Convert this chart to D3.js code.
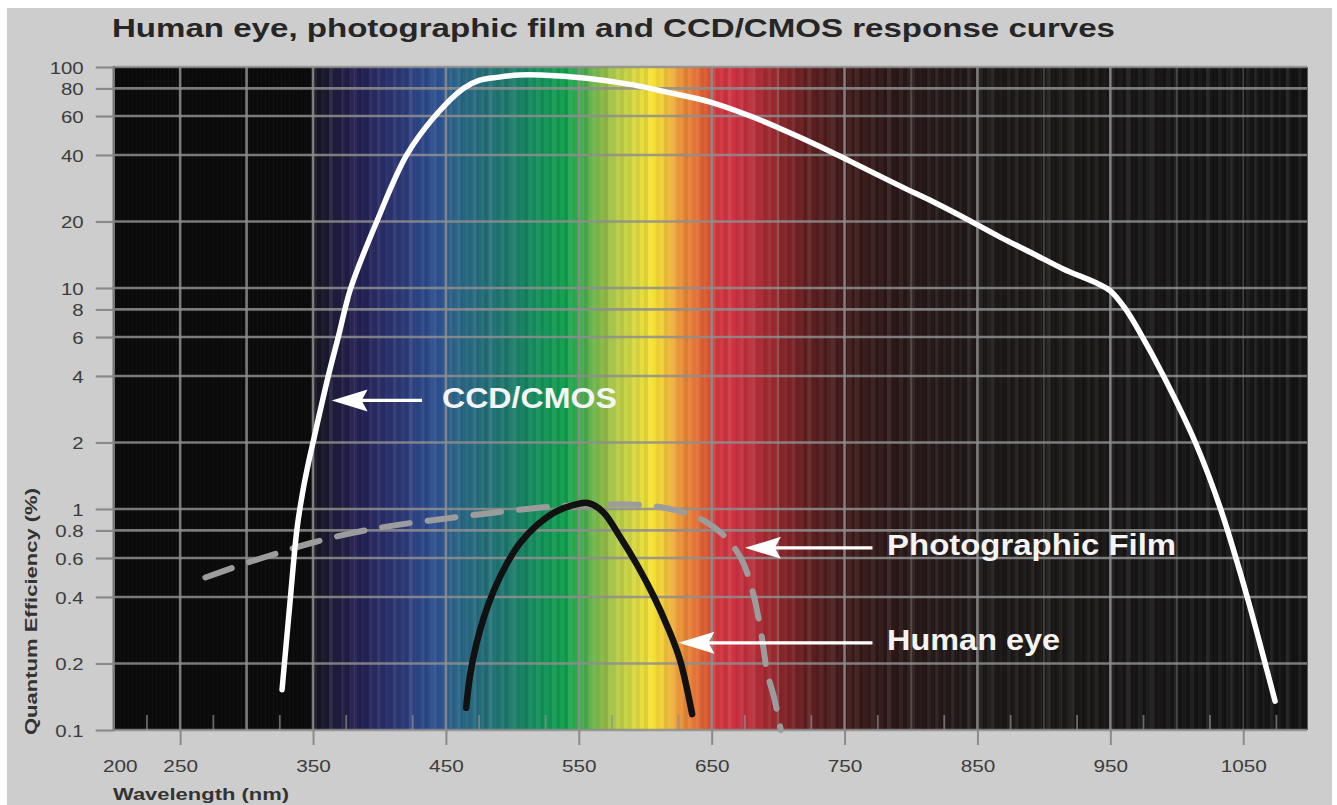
<!DOCTYPE html>
<html>
<head>
<meta charset="utf-8">
<script src="https://cdnjs.cloudflare.com/ajax/libs/d3/7.8.5/d3.min.js"></script>
<style>
  body { margin: 0; background: #fff; }
  svg { display: block; }
  text { font-family: "Liberation Sans", Arial, Helvetica, sans-serif; }
</style>
</head>
<body>
<svg id="chart" width="1337" height="805"></svg>
<script>
// courbes (longueur d'onde nm, efficacité %)
const ccdNm   = [326.7, 332.7, 338, 342.5, 346.2, 350, 361.5, 369, 374, 378.4, 398, 420.5, 441.8, 463.1, 475, 490, 505, 521, 556, 591, 616, 649, 679, 704, 729, 754, 792, 817, 842, 867, 892, 914.5, 940, 950, 961, 972.5, 990, 1014, 1033, 1053, 1066.5, 1074];
const ccdQe   = [0.152, 0.38, 0.82, 1.22, 1.58, 2, 4, 6, 8, 10, 20, 40, 60, 80, 87, 90, 92, 92, 89, 83, 77, 69.4, 60, 51.9, 44.4, 37.5, 28.9, 24.5, 20.5, 17, 14.3, 12.2, 10.5, 9.7, 8.1, 6.25, 4, 2, 1, 0.4, 0.2, 0.135];
const filmNm  = [269, 300, 323, 348, 380, 415, 453, 490, 535, 565, 600, 625, 645, 658, 672, 681, 687, 692, 697, 702];
const filmQe  = [0.49, 0.57, 0.63, 0.7, 0.78, 0.85, 0.91, 0.97, 1.03, 1.05, 1.04, 0.98, 0.88, 0.77, 0.6, 0.42, 0.28, 0.18, 0.14, 0.1];
const eyeNm   = [465.2, 468.2, 472.7, 478.7, 486.2, 495.3, 505.8, 518.6, 532.1, 545.7, 557, 568.3, 581.1, 593.9, 605.9, 617.2, 626.2, 635.3];
const eyeQe   = [0.126, 0.177, 0.242, 0.325, 0.43, 0.558, 0.702, 0.846, 0.969, 1.042, 1.064, 0.969, 0.747, 0.558, 0.408, 0.289, 0.207, 0.118];

// axes
const yTicks      = [100, 80, 60, 40, 20, 10, 8, 6, 4, 2, 1, 0.8, 0.6, 0.4, 0.2, 0.1];
const xTickLabels = [200, 250, 350, 450, 550, 650, 750, 850, 950, 1050];
const xGridMajor  = [250, 300, 350, 450, 550, 650, 750, 850, 950];
const xGridFaint  = [700, 800, 900, 1000, 1050];

// fond spectral
const specNm    = [200, 348, 352, 365, 385, 410, 430, 447, 452, 475, 500, 520, 540, 552, 565, 580, 595, 605, 615, 625, 638, 648, 652, 670, 690, 705, 725, 750, 790, 850, 950, 1098];
const specColor = ["#0b0b0b", "#0b0b0b", "#16151f", "#1d1a38", "#221f52", "#2b3370", "#2d4586", "#2b5190", "#2b5f89", "#266c7d", "#1b7b69", "#12905a", "#10a14e", "#3ea94a", "#80b848", "#b8cc48", "#e0dc40", "#f6e332", "#f2c83a", "#ec9a3c", "#e47236", "#dc5234", "#d73a40", "#cb3040", "#a82a32", "#842428", "#5c1e20", "#3e1a1a", "#2a1818", "#1e1818", "#181616", "#131313"];
const stripe    = [0.05, -0.04, 0.02, -0.06, 0.07, 0.0, -0.03, 0.04, -0.05, 0.03, 0.06, -0.02, 0.01, -0.06, 0.04, -0.01, 0.05, -0.04, 0.02, -0.03];

// annotations : flèche (pointe, queue, valeur) + étiquette
const notes = [
  { label: "CCD/CMOS",          tip: 364, tail: 432, qe: 3.1,   textNm: 447, textQe: 2.85, w: 175 },
  { label: "Photographic Film", tip: 675, tail: 771, qe: 0.667, textNm: 782, textQe: 0.62, w: 289 },
  { label: "Human eye",         tip: 625, tail: 771, qe: 0.248, textNm: 782, textQe: 0.23, w: 173 }
];

const svg = d3.select("#chart");
const plotL = 113.7, plotR = 1307, plotT = 67, plotB = 730;

const x = d3.scaleLinear().domain([200, 1098]).range([plotL, plotR]);
const y = d3.scaleLog().domain([0.1, 100]).range([plotB, plotT]);

// fond gris
svg.append("rect").attr("x", 7).attr("y", 8).attr("width", 1325).attr("height", 797).attr("fill", "#cdcdcd");

// spectre
const specScale = d3.scaleLinear().domain(specNm).range(specColor).interpolate(d3.interpolateRgb);
const plot = svg.append("g");
plot.selectAll("rect.spec").data(d3.range(200, 1098, 1)).join("rect")
  .attr("class", "spec")
  .attr("x", d => x(d))
  .attr("y", plotT)
  .attr("width", x(201) - x(200) + 0.6)
  .attr("height", plotB - plotT)
  .attr("fill", d => specScale(d + 0.5));

// petites rayures verticales
plot.selectAll("rect.stripe").data(d3.range(350, 1096, 3)).join("rect")
  .attr("class", "stripe")
  .attr("x", d => x(d))
  .attr("y", plotT)
  .attr("width", x(203) - x(200))
  .attr("height", plotB - plotT)
  .attr("fill", (d, i) => stripe[i % stripe.length] > 0 ? "#fff" : "#000")
  .attr("opacity", (d, i) => Math.abs(stripe[i % stripe.length]) * 1.2);

// grille
const grid = svg.append("g");
grid.selectAll("line.gy").data(yTicks).join("line")
  .attr("x1", plotL).attr("x2", plotR)
  .attr("y1", d => y(d)).attr("y2", d => y(d))
  .attr("stroke", "#8e8e8e").attr("stroke-opacity", 0.85).attr("stroke-width", 2.6);
grid.selectAll("line.gx").data(xGridMajor).join("line")
  .attr("x1", d => x(d)).attr("x2", d => x(d))
  .attr("y1", plotT).attr("y2", plotB)
  .attr("stroke", "#8e8e8e").attr("stroke-opacity", 0.85).attr("stroke-width", 2.6);
grid.selectAll("line.gf").data(xGridFaint).join("line")
  .attr("x1", d => x(d)).attr("x2", d => x(d))
  .attr("y1", plotT).attr("y2", plotB)
  .attr("stroke", "#8e8e8e").attr("stroke-opacity", 0.35).attr("stroke-width", 1.8);
// petits traits en bas
grid.selectAll("line.minor").data(d3.range(225, 1100, 50)).join("line")
  .attr("x1", d => x(d)).attr("x2", d => x(d))
  .attr("y1", plotB - 15).attr("y2", plotB)
  .attr("stroke", "#8e8e8e").attr("stroke-opacity", 0.7).attr("stroke-width", 1.8);
// bord gauche
svg.append("line").attr("x1", plotL).attr("x2", plotL).attr("y1", plotT - 1).attr("y2", plotB + 1)
  .attr("stroke", "#7a7a7a").attr("stroke-width", 2.5);

// axes
function stretch(sel, k) {
  sel.each(function () {
    const n = this.getComputedTextLength();
    d3.select(this).attr("textLength", n * k).attr("lengthAdjust", "spacingAndGlyphs");
  });
}

const yAxis = svg.append("g").attr("transform", `translate(${plotL},0)`)
  .call(d3.axisLeft(y).tickValues(yTicks).tickFormat(d => d).tickSize(18).tickPadding(12));
yAxis.select(".domain").remove();
yAxis.selectAll(".tick line").attr("stroke", "#8a8a8a").attr("stroke-width", 2.2);
yAxis.selectAll(".tick text").attr("fill", "#3c3c3c").attr("font-size", 17).attr("dy", "0.36em")
  .call(stretch, 1.2);

const xAxis = svg.append("g").attr("transform", `translate(0,${plotB})`)
  .call(d3.axisBottom(x).tickValues(xTickLabels).tickFormat(d => d).tickSize(15).tickPadding(15));
xAxis.select(".domain").remove();
xAxis.selectAll(".tick line").attr("stroke", "#8a8a8a").attr("stroke-width", 2)
  .attr("opacity", d => d === 200 ? 0 : 1);
xAxis.selectAll(".tick text").attr("fill", "#3c3c3c").attr("font-size", 17)
  .attr("dx", d => d === 200 ? 6 : 0)
  .call(stretch, 1.22);

// titres
svg.append("text").attr("x", 112).attr("y", 37)
  .attr("font-size", 26).attr("font-weight", "bold").attr("fill", "#262626")
  .attr("textLength", 1003).attr("lengthAdjust", "spacingAndGlyphs")
  .text("Human eye, photographic film and CCD/CMOS response curves");

svg.append("text").attr("transform", "translate(37,735) rotate(-90)")
  .attr("font-size", 16).attr("font-weight", "bold").attr("fill", "#333")
  .attr("textLength", 247).attr("lengthAdjust", "spacingAndGlyphs")
  .text("Quantum Efficiency (%)");

svg.append("text").attr("x", 113).attr("y", 800)
  .attr("font-size", 17).attr("font-weight", "bold").attr("fill", "#333")
  .attr("textLength", 176).attr("lengthAdjust", "spacingAndGlyphs")
  .text("Wavelength (nm)");

// courbes
const line = d3.line().x(d => x(d[0])).y(d => y(d[1])).curve(d3.curveCatmullRom.alpha(0.5));
const zip = (a, b) => a.map((v, i) => [v, b[i]]);

svg.append("path").datum(zip(filmNm, filmQe)).attr("d", line)
  .attr("fill", "none").attr("stroke", "#9c9c9c").attr("stroke-width", 6)
  .attr("stroke-dasharray", "28 18").attr("stroke-linecap", "round");

svg.append("path").datum(zip(eyeNm, eyeQe)).attr("d", line)
  .attr("fill", "none").attr("stroke", "#111").attr("stroke-width", 6.5)
  .attr("stroke-linecap", "round");

svg.append("path").datum(zip(ccdNm, ccdQe)).attr("d", line)
  .attr("fill", "none").attr("stroke", "#fff").attr("stroke-width", 5.5)
  .attr("stroke-linecap", "round").attr("stroke-linejoin", "round");

// flèches et étiquettes
const ann = svg.append("g").selectAll("g").data(notes).join("g");
ann.append("line")
  .attr("x1", d => x(d.tip) + 20).attr("x2", d => x(d.tail))
  .attr("y1", d => y(d.qe)).attr("y2", d => y(d.qe))
  .attr("stroke", "#fff").attr("stroke-width", 3.2);
ann.append("path")
  .attr("d", d => {
    const tx = x(d.tip), ty = y(d.qe);
    return `M${tx},${ty} L${tx + 36},${ty - 11} L${tx + 30},${ty} L${tx + 36},${ty + 11} Z`;
  })
  .attr("fill", "#fff");
ann.append("text")
  .attr("x", d => x(d.textNm)).attr("y", d => y(d.textQe))
  .attr("font-size", 30).attr("font-weight", "bold").attr("fill", "#f4f4f4")
  .attr("textLength", d => d.w).attr("lengthAdjust", "spacingAndGlyphs")
  .text(d => d.label);
</script>
</body>
</html>
